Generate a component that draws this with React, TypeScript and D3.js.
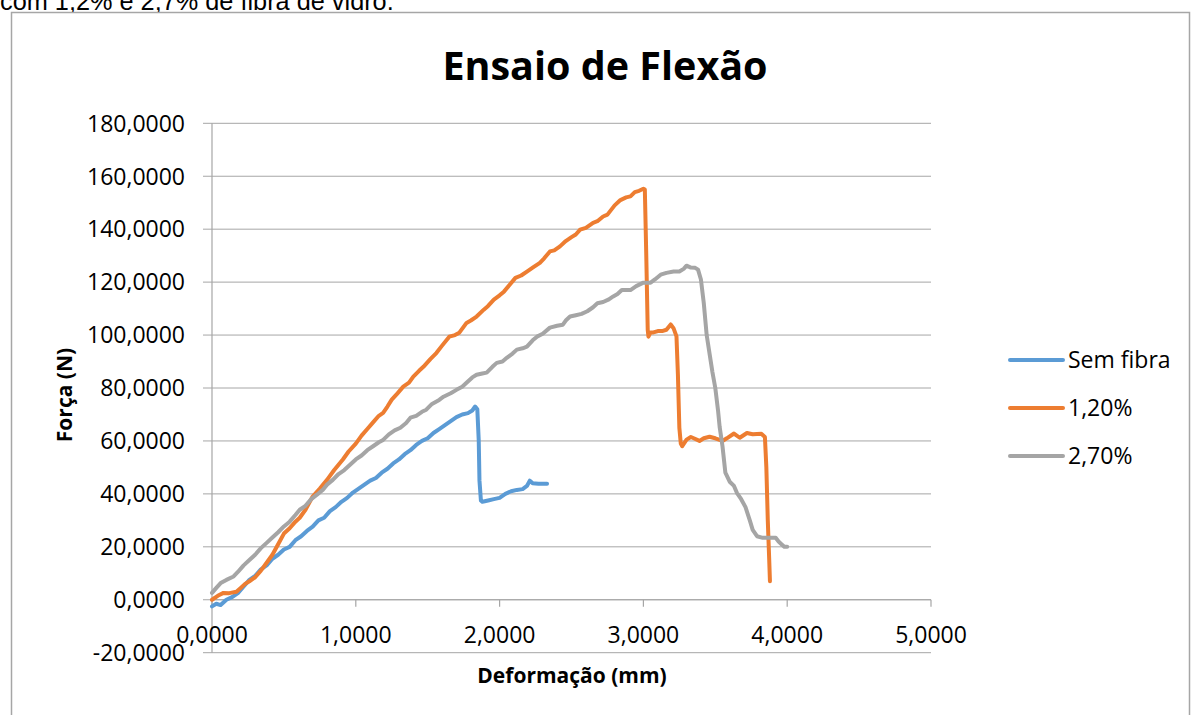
import React from "react";
import * as d3 from "d3";

const seriesNames = ["Sem fibra", "1,20%", "2,70%"];
const seriesColors = ["#5B9BD5", "#ED7D31", "#A5A5A5"];

const yTicks = [-20, 0, 20, 40, 60, 80, 100, 120, 140, 160, 180];
const xTicks = [0, 1, 2, 3, 4, 5];

// [deformação (mm), força (N)]
const semFibra: [number, number][] = [
  [0.0, -2.5], [0.03, -1.5], [0.06, -2], [0.1, 0], [0.14, 1], [0.18, 2.5], [0.22, 5], [0.26, 7.5],
  [0.3, 9], [0.34, 11.5], [0.38, 13], [0.42, 15.5], [0.46, 17], [0.5, 19], [0.54, 20], [0.58, 22.5],
  [0.62, 24], [0.66, 26], [0.7, 27.6], [0.74, 30], [0.78, 31], [0.82, 33.5], [0.86, 35], [0.9, 37],
  [0.94, 38.5], [0.98, 40.5], [1.02, 42], [1.06, 43.5], [1.1, 45], [1.14, 46], [1.18, 48], [1.22, 49.5],
  [1.26, 51.5], [1.3, 53], [1.34, 55], [1.38, 56.5], [1.42, 58.5], [1.46, 60], [1.5, 61], [1.54, 63],
  [1.58, 64.5], [1.62, 66], [1.66, 67.5], [1.7, 69], [1.74, 70], [1.78, 70.5], [1.81, 71.5], [1.83, 73],
  [1.845, 72], [1.855, 60], [1.86, 45], [1.87, 37.5], [1.88, 37], [1.92, 37.5], [1.96, 38], [2.0, 38.5],
  [2.04, 40], [2.08, 41], [2.12, 41.5], [2.16, 41.8], [2.19, 43], [2.21, 45], [2.23, 44], [2.27, 43.8],
  [2.33, 43.8],
];

const fibra120: [number, number][] = [
  [0.0, 0], [0.04, 1.5], [0.08, 2.6], [0.12, 2.5], [0.17, 3], [0.2, 4.5], [0.23, 6], [0.26, 7],
  [0.3, 8.5], [0.34, 11], [0.38, 14], [0.42, 17], [0.46, 21], [0.5, 25], [0.54, 27], [0.58, 29.5],
  [0.61, 31], [0.65, 34], [0.7, 39], [0.75, 42], [0.8, 45.3], [0.85, 49], [0.91, 53], [0.95, 56],
  [1.0, 59], [1.04, 62], [1.08, 64.5], [1.12, 67], [1.16, 69.5], [1.19, 70.6], [1.22, 73], [1.25, 75.6],
  [1.29, 78], [1.33, 80.5], [1.37, 82], [1.4, 84.3], [1.44, 86.5], [1.47, 88], [1.52, 91], [1.56, 93.2],
  [1.6, 96], [1.65, 99.4], [1.69, 100], [1.72, 100.9], [1.77, 104.6], [1.8, 105.5], [1.84, 107], [1.89, 109.6],
  [1.92, 111], [1.96, 113.4], [2.0, 115], [2.03, 116.4], [2.07, 119], [2.11, 121.6], [2.15, 122.5], [2.19, 124],
  [2.23, 125.5], [2.28, 127.3], [2.31, 129], [2.35, 131.6], [2.38, 132], [2.42, 133.5], [2.46, 135.5], [2.5, 137],
  [2.53, 138], [2.56, 139.8], [2.6, 140.5], [2.65, 142.4], [2.68, 143], [2.72, 144.8], [2.75, 145.5], [2.8, 149],
  [2.84, 151], [2.88, 152], [2.91, 152.4], [2.94, 154], [2.97, 154.5], [3.0, 155.3], [3.01, 155], [3.02, 130],
  [3.03, 102], [3.035, 99.4], [3.05, 101], [3.07, 101], [3.1, 101.5], [3.13, 101.5], [3.16, 102], [3.19, 104],
  [3.21, 102.5], [3.23, 99.5], [3.24, 85], [3.25, 65], [3.26, 59], [3.27, 58], [3.3, 60.5], [3.33, 61.5],
  [3.35, 61], [3.39, 60], [3.42, 61], [3.46, 61.6], [3.5, 61], [3.55, 60], [3.58, 61], [3.63, 62.8],
  [3.67, 61.2], [3.72, 63], [3.76, 62.5], [3.82, 62.7], [3.845, 61.5], [3.855, 50], [3.865, 30], [3.875, 15],
  [3.88, 7],
];

const fibra270: [number, number][] = [
  [0.0, 2.6], [0.03, 4.5], [0.06, 6.3], [0.1, 7.5], [0.15, 8.8], [0.18, 10.5], [0.22, 13], [0.26, 15],
  [0.3, 17], [0.34, 19.5], [0.38, 21.5], [0.42, 23.5], [0.46, 25.5], [0.5, 27.7], [0.54, 29.5], [0.58, 32],
  [0.61, 34], [0.65, 35.5], [0.69, 38], [0.73, 39.7], [0.77, 41.5], [0.8, 43.5], [0.84, 45.3], [0.88, 47.5],
  [0.92, 49], [0.96, 51], [1.0, 53], [1.04, 54.5], [1.08, 56.5], [1.12, 58], [1.16, 59.5], [1.19, 60.4],
  [1.23, 62.5], [1.27, 64], [1.31, 65], [1.35, 66.8], [1.38, 68.8], [1.42, 69.5], [1.46, 71], [1.49, 71.8],
  [1.53, 74], [1.58, 75.5], [1.61, 76.7], [1.66, 78], [1.7, 79.3], [1.74, 80.5], [1.77, 82], [1.81, 84],
  [1.84, 85], [1.88, 85.5], [1.91, 85.8], [1.95, 88], [1.98, 89.5], [2.02, 90], [2.05, 91.4], [2.09, 93],
  [2.12, 94.5], [2.16, 95], [2.19, 95.6], [2.23, 98], [2.26, 99.4], [2.3, 100.5], [2.35, 102.8], [2.4, 103.5],
  [2.44, 103.9], [2.46, 105.5], [2.49, 107], [2.53, 107.5], [2.57, 108], [2.61, 109], [2.65, 110.5], [2.68, 112],
  [2.72, 112.5], [2.76, 113.5], [2.79, 114.6], [2.82, 115.5], [2.85, 117], [2.91, 117], [2.95, 118.5], [3.0, 119.8],
  [3.05, 119.8], [3.08, 121], [3.12, 122.8], [3.16, 123.5], [3.21, 124], [3.25, 124], [3.28, 125], [3.3, 126.2],
  [3.33, 125.5], [3.36, 125.4], [3.38, 124.7], [3.4, 121], [3.42, 112], [3.44, 100], [3.46, 93], [3.48, 86],
  [3.5, 80], [3.52, 71], [3.53, 65.4], [3.55, 58], [3.57, 48], [3.6, 44.6], [3.63, 43], [3.65, 40.4],
  [3.68, 38], [3.71, 35], [3.74, 30], [3.76, 26.4], [3.79, 24], [3.83, 23.4], [3.88, 23.4], [3.92, 23.4],
  [3.94, 22], [3.96, 21], [3.98, 20], [4.0, 20],
];

const allSeries = [semFibra, fibra120, fibra270];

const fmt = (v: number) => v.toFixed(4).replace(".", ",");

const FONT = "'Open Sans', sans-serif";
const GRID = "#A6A6A6";

export default function App() {
  const W = 1194;
  const H = 715;
  const x = d3.scaleLinear().domain([0, 5]).range([212, 931]);
  const y = d3.scaleLinear().domain([-20, 180]).range([652.7, 123.3]);
  const line = d3
    .line<[number, number]>()
    .x((d) => x(d[0]))
    .y((d) => y(d[1]));

  const legendY = [360, 408, 456];

  return (
    <svg
      width={W}
      height={H}
      style={{ position: "absolute", left: 0, top: 0, background: "#fff" }}
    >
      <rect x={0} y={0} width={W} height={H} fill="#fff" />
      <text x={0} y={10} fontFamily="'Liberation Sans', Arial, sans-serif" fontSize={25.3} fill="#000">
        com 1,2% e 2,7% de fibra de vidro.
      </text>
      <rect x={11.5} y={12.5} width={1178} height={740} fill="#fff" stroke={GRID} strokeWidth={1.5} />

      <text x={605} y={80} textAnchor="middle" fontFamily={FONT} fontWeight={700} fontSize={39.5} fill="#000">
        Ensaio de Flexão
      </text>

      {yTicks.map((t) => (
        <g key={"gy" + t}>
          <line x1={203} x2={931} y1={y(t)} y2={y(t)} stroke={GRID} strokeWidth={1} />
          <text
            x={185}
            y={y(t)}
            dy="0.36em"
            textAnchor="end"
            fontFamily={FONT}
            fontSize={23}
            fill="#000"
          >
            {fmt(t)}
          </text>
        </g>
      ))}
      <line x1={x(0)} x2={x(0)} y1={y(180)} y2={y(-20)} stroke={GRID} strokeWidth={1.2} />
      <line x1={x(0)} x2={x(5)} y1={y(0)} y2={y(0)} stroke={GRID} strokeWidth={1.2} />
      {xTicks.map((t) => (
        <g key={"gx" + t}>
          <line x1={x(t)} x2={x(t)} y1={y(0)} y2={y(0) + 7} stroke={GRID} strokeWidth={1.2} />
          <text
            x={x(t)}
            y={635}
            dy="0.36em"
            textAnchor="middle"
            fontFamily={FONT}
            fontSize={23}
            fill="#000"
          >
            {fmt(t)}
          </text>
        </g>
      ))}

      {allSeries.map((s, i) => (
        <path
          key={"s" + i}
          d={line(s) || ""}
          fill="none"
          stroke={seriesColors[i]}
          strokeWidth={4}
          strokeLinejoin="round"
          strokeLinecap="round"
        />
      ))}

      <text x={572} y={675} dy="0.36em" textAnchor="middle" fontFamily={FONT} fontWeight={700} fontSize={21} fill="#000">
        Deformação (mm)
      </text>
      <text
        transform={`translate(64,395) rotate(-90)`}
        dy="0.36em"
        textAnchor="middle"
        fontFamily={FONT}
        fontWeight={700}
        fontSize={21}
        fill="#000"
      >
        Força (N)
      </text>

      {seriesNames.map((n, i) => (
        <g key={"lg" + i}>
          <line x1={1010} x2={1063} y1={legendY[i]} y2={legendY[i]} stroke={seriesColors[i]} strokeWidth={4} strokeLinecap="round" />
          <text x={1068} y={legendY[i]} dy="0.36em" fontFamily={FONT} fontSize={23} fill="#000">
            {n}
          </text>
        </g>
      ))}
    </svg>
  );
}
